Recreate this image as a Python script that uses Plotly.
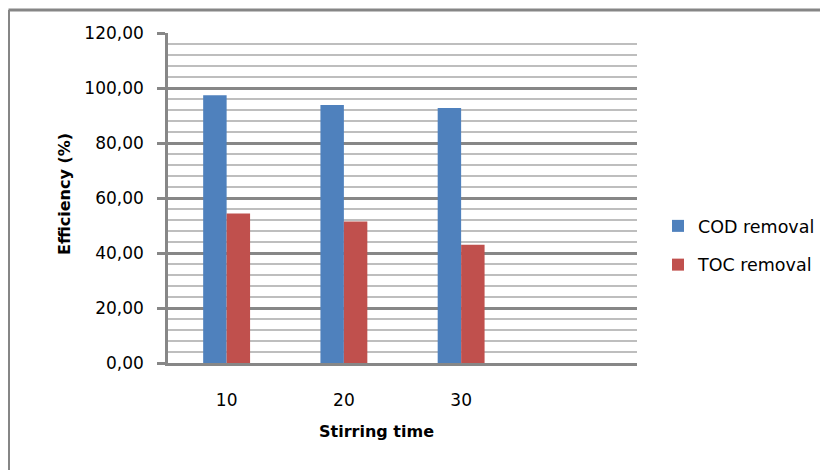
import plotly.graph_objects as go

categories = ["10", "20", "30"]
cod_removal = [97.4, 93.8, 92.7]
toc_removal = [54.4, 51.5, 43.0]
y_ticks = [0, 20, 40, 60, 80, 100, 120]

FONT = "DejaVu Sans"
GRID = "#878787"
MINOR = "#bebebe"

# page body has an 8px margin; work in screen pixels and subtract it
OFF = 8
W, H = 828 - OFF, 472 - OFF
L, R, T, B = 168 - OFF, 637 - OFF, 33 - OFF, 363 - OFF

def px_x(p):
    return (p - OFF - L) / (R - L)

def px_y(p):
    return (B - (p - OFF)) / (B - T)

fig = go.Figure()
fig.add_trace(go.Bar(x=categories, y=cod_removal, name="COD removal",
                     marker=dict(color="#4f81bd", line=dict(width=0)),
                     legendgroup="a"))
fig.add_trace(go.Bar(x=categories, y=toc_removal, name="TOC removal",
                     marker=dict(color="#c0504d", line=dict(width=0)),
                     legendgroup="b"))

fig.update_layout(
    width=W, height=H,
    margin=dict(l=L, r=W - R, t=T, b=H - B, pad=0, autoexpand=False),
    paper_bgcolor="white", plot_bgcolor="white",
    barmode="group", bargap=0.6, bargroupgap=0,
    separators=", ",
    font=dict(family=FONT, size=17, color="black"),
    showlegend=True,
    legend=dict(x=px_x(658), y=px_y(208), xanchor="left", yanchor="top",
                font=dict(family=FONT, size=17.5), tracegroupgap=13,
                bgcolor="rgba(0,0,0,0)", itemclick=False),
    xaxis=dict(type="category", range=[-0.5, 3.5], showgrid=False,
               showline=True, linecolor=GRID, linewidth=2.5,
               ticks="", ticklabelstandoff=20,
               tickfont=dict(family=FONT, size=17), zeroline=False),
    yaxis=dict(range=[0, 120], tickvals=y_ticks, tickformat=".2f",
               showgrid=True, gridcolor=GRID, gridwidth=2.5,
               minor=dict(dtick=4, showgrid=True, gridcolor=MINOR, gridwidth=2),
               showline=True, linecolor=GRID, linewidth=2.5,
               ticks="outside", ticklen=8, tickwidth=2.5, tickcolor=GRID,
               ticklabelstandoff=10,
               tickfont=dict(family=FONT, size=17), zeroline=False),
)

fig.add_annotation(text="<b>Stirring time</b>", xref="paper", yref="paper",
                   x=px_x(376), y=px_y(432), xanchor="center", yanchor="middle",
                   showarrow=False, font=dict(family=FONT, size=16))
fig.add_annotation(text="<b>Efficiency (%)</b>", xref="paper", yref="paper",
                   x=px_x(64), y=px_y(194), xanchor="center", yanchor="middle",
                   textangle=-90, showarrow=False, font=dict(family=FONT, size=16))

# outer chart border: left and top edges, kept inside the figure
fig.add_shape(type="line", xref="paper", yref="paper",
              x0=px_x(8.5), x1=px_x(8.5), y0=px_y(10), y1=px_y(470),
              line=dict(color="#868686", width=3))
fig.add_shape(type="line", xref="paper", yref="paper",
              x0=px_x(8.5), x1=px_x(826), y0=px_y(10), y1=px_y(10),
              line=dict(color="#868686", width=3))

fig.write_html("out.html")
